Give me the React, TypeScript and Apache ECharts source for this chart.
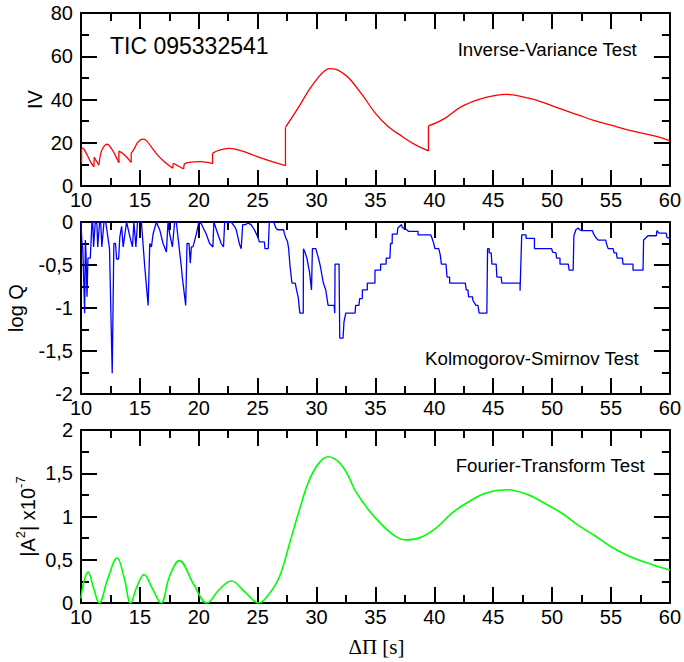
import React, { useEffect, useRef } from 'react';
import * as echarts from 'echarts';

// ---------- data ----------
const xRange = [10, 60];
const xInterval = 5;

// Inverse-Variance test: continuous pieces; vertical jumps join consecutive pieces
const ivSegments: [number, number][][] = [
  [[10.05, 10.6]],
  [[10.05, 17.4], [10.15, 17.5], [10.3, 16.6], [10.6, 13.5], [10.85, 10.8], [11.1, 8.9]],
  [[11.12, 13.3], [11.3, 11.6], [11.52, 9.7]],
  [[11.52, 9.7], [11.72, 15.9], [12.0, 18.7], [12.23, 19.3], [12.57, 17.4], [12.9, 14.3], [13.22, 10.8]],
  [[13.22, 16.1], [13.55, 15.0], [13.98, 12.7], [14.26, 10.9]],
  [[14.26, 15.1], [14.54, 17.4], [14.82, 20.2], [15.24, 21.7], [15.53, 21.1], [15.95, 18.2], [16.51, 14.3], [17.08, 11.2], [17.78, 8.2]],
  [[17.84, 10.5], [18.2, 9.4], [18.71, 7.9]],
  [[18.77, 10.2], [19.05, 10.8], [19.61, 11.2], [20.18, 11.25], [20.74, 10.9], [21.17, 10.3]],
  [[21.17, 15.1], [21.59, 16.3], [22.1, 17.1], [22.58, 17.4], [23.0, 17.2], [23.85, 15.9], [24.97, 13.6], [26.1, 11.5], [27.36, 9.4]],
  [[27.36, 27.1], [27.96, 32.1], [28.53, 36.9], [29.38, 44.6], [30.22, 50.7], [30.7, 53.3], [31.1, 54.3], [31.6, 54.0], [32.2, 52.3], [32.76, 49.8], [33.9, 42], [35.0, 33.6], [36.1, 27.4], [37.3, 22.8], [38.4, 19], [39.5, 16.2]],
  [[39.5, 27.8], [40.9, 31.3], [42.3, 36.7], [43.8, 40.1], [45.2, 41.9], [46.1, 42.4], [48.0, 40.6], [49.4, 38.3], [50.8, 35.5], [52.2, 32.9], [53.6, 30.2], [55.0, 28.1], [56.4, 25.9], [57.9, 24.1], [59.3, 22.2], [60, 20.9]],
];

// Kolmogorov-Smirnov test (log Q)
const logQ: [number, number][] = [
  [10.0, 0], [10.08, -0.24], [10.15, -0.3], [10.31, -1.06], [10.37, -0.21], [10.42, -0.35], [10.51, -0.87], [10.59, -0.42], [10.79, -0.42],
  [10.93, 0], [11.0, -0.02], [11.07, -0.29], [11.21, 0], [11.35, -0.02], [11.42, -0.29], [11.58, 0], [11.68, -0.02], [11.77, -0.29], [11.95, 0],
  [12.1, 0], [12.42, -0.31], [12.65, -1.76], [12.79, -0.25], [12.93, -0.25], [13.02, -0.43], [13.19, -0.43], [13.3, -0.17], [13.45, -0.05],
  [13.58, -0.29], [13.87, 0], [14.15, -0.17], [14.37, -0.29], [14.49, 0], [14.66, -0.29], [14.8, 0], [15.13, 0], [15.4, -0.5], [15.7, -0.97],
  [15.84, -0.25], [15.98, -0.29], [16.12, -0.14], [16.4, 0], [16.7, -0.1], [16.97, -0.25], [17.25, -0.35], [17.39, 0], [17.53, -0.14],
  [17.76, -0.29], [17.95, 0], [18.09, 0], [18.52, -0.52], [18.6, -0.64], [18.89, -0.97], [19.0, -0.25], [19.17, -0.25], [19.28, -0.48],
  [19.37, -0.29], [19.51, -0.29], [19.79, -0.14], [20.01, 0], [20.21, -0.02], [20.63, -0.14], [20.92, -0.25], [21.2, -0.29], [21.28, 0],
  [21.62, -0.14], [21.9, -0.25], [22.1, -0.29], [22.2, 0], [22.75, 0], [23.03, -0.05], [23.18, -0.09], [23.46, -0.26], [23.6, -0.31],
  [23.73, -0.03], [24.0, -0.03], [24.15, -0.01], [24.44, -0.03], [24.72, -0.09], [25.0, -0.17], [25.14, -0.23], [25.57, -0.23], [25.62, -0.31],
  [25.9, -0.31], [25.99, 0], [26.36, 0], [26.55, -0.07], [26.69, -0.09], [27.2, -0.09], [27.26, -0.13], [27.4, -0.19], [27.54, -0.23],
  [27.63, -0.31], [27.74, -0.5], [27.91, -0.71], [28.19, -0.71], [28.33, -0.81], [28.44, -0.87], [28.58, -1.06], [28.87, -1.06],
  [28.89, -0.31], [29.04, -0.36], [29.18, -0.42], [29.4, -0.58], [29.57, -0.79], [29.65, -0.31], [29.94, -0.31], [30.16, -0.42],
  [30.3, -0.5], [30.58, -0.71], [30.78, -0.79], [30.98, -0.97], [31.49, -0.97], [31.55, -1.06], [31.57, -0.49], [31.91, -0.49],
  [31.97, -1.35], [32.25, -1.35], [32.33, -1.16], [32.48, -1.06], [33.27, -1.06], [33.32, -0.97], [33.6, -0.97], [33.66, -0.89],
  [33.88, -0.89], [33.9, -0.79], [34.31, -0.79], [34.31, -0.71], [34.96, -0.71], [34.96, -0.56], [35.44, -0.56], [35.44, -0.49],
  [35.9, -0.49], [35.92, -0.42], [36.23, -0.42], [36.28, -0.25], [36.42, -0.25], [36.43, -0.14], [36.85, -0.14], [36.9, -0.07],
  [37.13, -0.04], [37.22, -0.03], [37.27, -0.06], [37.49, -0.085], [37.6, -0.085], [37.83, -0.11], [38.62, -0.11], [38.62, -0.15],
  [39.7, -0.15], [39.81, -0.19], [39.95, -0.25], [40.05, -0.31], [40.37, -0.31], [40.5, -0.38], [40.6, -0.49], [40.99, -0.49],
  [41.08, -0.64], [41.3, -0.64], [41.3, -0.71], [42.63, -0.71], [42.71, -0.79], [42.85, -0.79], [42.91, -0.87], [43.25, -0.87],
  [43.27, -0.91], [43.53, -0.97], [43.7, -0.97], [43.81, -1.06], [44.46, -1.06], [44.52, -0.31], [44.66, -0.31], [44.66, -0.36],
  [44.83, -0.36], [44.89, -0.49], [45.25, -0.49], [45.31, -0.64], [45.68, -0.64], [45.73, -0.71], [47.28, -0.71], [47.28, -0.8],
  [47.42, -0.15], [47.79, -0.15], [47.79, -0.19], [48.5, -0.19], [48.5, -0.31], [49.96, -0.31], [50.04, -0.35], [50.33, -0.36],
  [50.38, -0.42], [50.67, -0.42], [50.67, -0.49], [51.37, -0.49], [51.45, -0.56], [51.79, -0.56], [51.85, -0.16], [52.02, -0.09],
  [52.22, -0.07], [52.36, -0.09], [52.5, -0.1], [53.43, -0.1], [53.49, -0.13], [53.62, -0.16], [53.77, -0.19], [53.91, -0.21],
  [54.56, -0.21], [54.61, -0.25], [54.76, -0.31], [55.18, -0.31], [55.26, -0.36], [55.46, -0.36], [55.52, -0.42], [55.97, -0.42],
  [56.02, -0.49], [56.87, -0.49], [56.87, -0.56], [57.72, -0.56], [57.77, -0.21], [58.14, -0.16], [58.85, -0.16], [58.9, -0.1],
  [59.07, -0.13], [59.69, -0.13], [59.75, -0.18], [60, -0.19],
];

// Fourier-Transform test |A^2| x 1e-7
const fourier: [number, number][] = [
  [10.0, 0.05], [10.2, 0.22], [10.6, 0.36], [11.05, 0.18], [11.55, 0.0], [12.25, 0.27], [13.07, 0.52], [13.65, 0.3], [14.22, 0.0],
  [14.75, 0.19], [15.35, 0.33], [16.05, 0.17], [16.8, 0.0], [17.5, 0.3], [18.35, 0.49], [19.55, 0.22], [20.7, 0.0], [21.7, 0.15],
  [22.76, 0.255], [23.9, 0.13], [25.1, 0.0], [25.95, 0.1], [26.84, 0.3], [27.69, 0.68], [28.53, 1.07], [29.38, 1.42], [30.22, 1.62],
  [31.0, 1.69], [31.6, 1.66], [32.2, 1.58], [32.76, 1.45], [33.32, 1.29], [34.45, 1.07], [35.58, 0.9], [36.71, 0.77], [37.55, 0.73],
  [38.68, 0.75], [40.09, 0.86], [41.5, 1.04], [42.91, 1.17], [44.32, 1.27], [46.15, 1.31], [47.98, 1.25], [49.39, 1.15], [50.8, 1.04],
  [52.2, 0.9], [53.6, 0.78], [55.0, 0.65], [56.4, 0.55], [57.9, 0.47], [60, 0.38],
];

const yRanges = [
  { min: 0, max: 80, interval: 20 },
  { min: -2, max: 0, interval: 0.5 },
  { min: 0, max: 2, interval: 0.5 },
];

const yNames = ['IV', 'log Q', '{n||A}{s|2}{n|| x10}{s|-7}'];
const xName = '\u0394\u03a0 [s]';
const panelTitles = ['Inverse-Variance Test', 'Kolmogorov-Smirnov Test', 'Fourier-Transform Test'];
const starName = 'TIC 095332541';

// ---------- layout / styling ----------
const FONT = '"Liberation Sans", Arial, Helvetica, sans-serif';
const SERIF = '"Liberation Serif", "Times New Roman", serif';
// each panel is its own chart instance, stacked in one 684x662 page
const panels = [
  { top: 0, height: 215, gridTop: 13, gridHeight: 173, nameX: 35, titleTop: 40, titleRight: 47 },
  { top: 200, height: 225, gridTop: 22, gridHeight: 172, nameX: 16, titleTop: 149, titleRight: 45 },
  { top: 405, height: 257, gridTop: 25, gridHeight: 173, nameX: 28, titleTop: 51, titleRight: 39 },
];

const fmt = (v: number) => String(v).replace('.', ',');

function axisStyle(showLabel: boolean, margin: number) {
  return {
    axisLine: { show: true, onZero: false, lineStyle: { color: '#000', width: 2 } },
    axisTick: { show: true, inside: true, length: 16, lineStyle: { color: '#000', width: 2 } },
    minorTick: { show: true, splitNumber: 2, length: 8, lineStyle: { color: '#000', width: 2 } },
    splitLine: { show: false },
    axisLabel: showLabel
      ? { show: true, margin, color: '#000', fontSize: 20, fontFamily: FONT, formatter: fmt }
      : { show: false },
  };
}

function panelOption(i: number) {
  const p = panels[i];
  const yr = yRanges[i];
  const xAxis = [
    { type: 'value', gridIndex: 0, position: 'bottom', min: xRange[0], max: xRange[1], interval: xInterval, ...axisStyle(true, 4) },
    { type: 'value', gridIndex: 0, position: 'top', min: xRange[0], max: xRange[1], interval: xInterval, ...axisStyle(false, 4) },
  ];
  const yAxis = [
    { type: 'value', gridIndex: 0, position: 'left', min: yr.min, max: yr.max, interval: yr.interval, ...axisStyle(true, 8) },
    { type: 'value', gridIndex: 0, position: 'right', min: yr.min, max: yr.max, interval: yr.interval, ...axisStyle(false, 8) },
  ];

  const series: any[] = [];
  if (i === 0) {
    ivSegments.forEach((seg, k) => {
      if (seg.length > 1) {
        series.push({
          type: 'line', xAxisIndex: 0, yAxisIndex: 0, data: seg, smooth: 0.4, showSymbol: false,
          lineStyle: { color: '#ff0000', width: 1.3 },
        });
      }
      if (k < ivSegments.length - 1) {
        series.push({
          type: 'line', xAxisIndex: 0, yAxisIndex: 0, data: [seg[seg.length - 1], ivSegments[k + 1][0]], showSymbol: false,
          lineStyle: { color: '#ff0000', width: 1.3 },
        });
      }
    });
  } else if (i === 1) {
    series.push({
      type: 'line', xAxisIndex: 0, yAxisIndex: 0, data: logQ, showSymbol: false,
      lineStyle: { color: '#0000ff', width: 1.3 },
    });
  } else {
    series.push({
      type: 'line', xAxisIndex: 0, yAxisIndex: 0, data: fourier, smooth: 0.4, showSymbol: false,
      lineStyle: { color: '#00ff00', width: 1.6 },
    });
  }

  const textStyle = (t: string, size: number) => ({ text: t, fontSize: size, fontFamily: FONT, fill: '#000' });
  const graphic: any[] = [
    { type: 'text', right: p.titleRight, top: p.titleTop, style: textStyle(panelTitles[i], 18.7) },
    {
      type: 'text',
      x: p.nameX,
      y: p.gridTop + p.gridHeight / 2,
      rotation: Math.PI / 2,
      style: {
        text: yNames[i], fontSize: 20, fontFamily: FONT, fill: '#000', align: 'center', verticalAlign: 'middle',
        rich: {
          n: { fontSize: 20, fontFamily: FONT, fill: '#000', lineHeight: 28 },
          s: { fontSize: 13, fontFamily: FONT, fill: '#000', verticalAlign: 'top', lineHeight: 14 },
        },
      },
    },
  ];
  if (i === 0) graphic.push({ type: 'text', left: 110, top: 34, style: textStyle(starName, 23) });
  if (i === 2) {
    graphic.push({
      type: 'text', x: 376.5, y: 242,
      style: { text: xName, fontSize: 21, fontFamily: SERIF, fill: '#000', align: 'center', verticalAlign: 'middle' },
    });
  }

  return {
    animation: false,
    grid: [{ left: 81, right: 12, top: p.gridTop, height: p.gridHeight }],
    xAxis,
    yAxis,
    series,
    graphic,
  };
}

function Panel({ index }: { index: number }) {
  const ref = useRef<HTMLDivElement>(null);
  useEffect(() => {
    const chart = echarts.init(ref.current!, null, { renderer: 'svg' });
    chart.setOption(panelOption(index));
    return () => chart.dispose();
  }, [index]);
  const p = panels[index];
  return <div ref={ref} style={{ position: 'absolute', left: 0, top: p.top, width: 684, height: p.height }} />;
}

export default function App() {
  useEffect(() => {
    document.body.style.margin = '0';
  }, []);
  return (
    <div style={{ position: 'relative', width: 684, height: 662, background: '#fff' }}>
      {panels.map((_, i) => (
        <Panel key={i} index={i} />
      ))}
    </div>
  );
}
